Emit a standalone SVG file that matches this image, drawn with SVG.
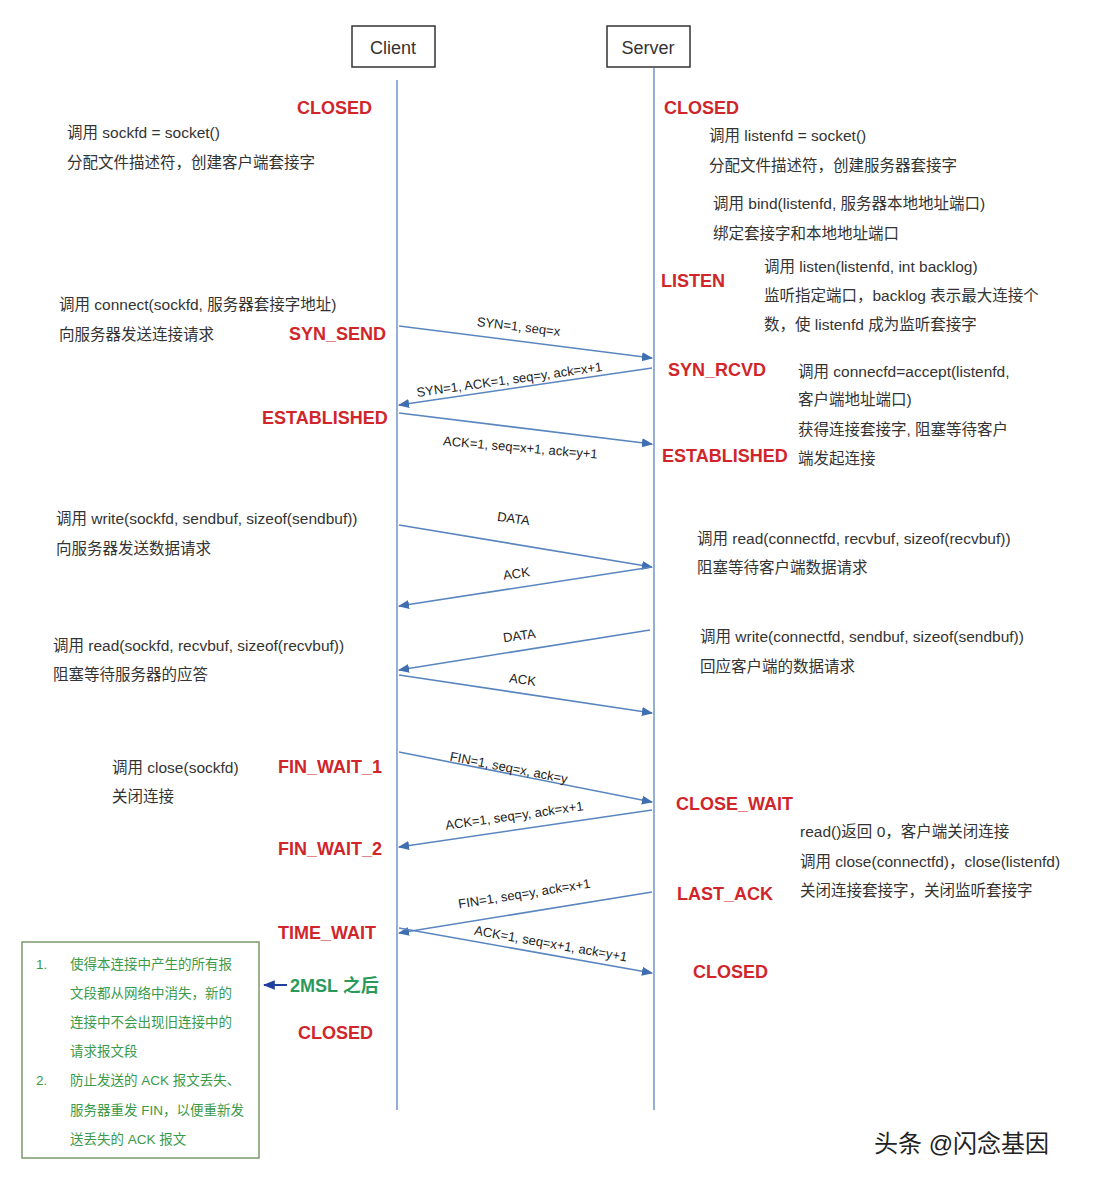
<svg xmlns="http://www.w3.org/2000/svg" width="1100" height="1182" viewBox="0 0 1100 1182">
<defs>
<style>
text{font-family:"Liberation Sans","Noto Sans CJK SC",sans-serif;}
.st{fill:#d0262b;font-size:18px;font-weight:bold;}
.t{fill:#333;font-size:15.5px;}
.m{fill:#222;font-size:13px;}
.g{fill:#3a9a4a;font-size:13.5px;}
.ln{stroke:#7a9ccc;stroke-width:1.6;fill:none;}
.ar{stroke:#5a86c0;stroke-width:1.6;fill:none;marker-end:url(#ah);}
</style>
<marker id="ah" viewBox="0 0 10 10" refX="9" refY="5" markerWidth="7" markerHeight="7" orient="auto"><path d="M0,1 L10,5 L0,9 z" fill="#3f6fb0"/></marker>
<marker id="ahb" viewBox="0 0 10 10" refX="9" refY="5" markerWidth="6" markerHeight="6" orient="auto"><path d="M0,1 L10,5 L0,9 z" fill="#2040a0"/></marker>
</defs>
<rect width="1100" height="1182" fill="#fff"/>
<g id="client"><rect x="352" y="26" width="83" height="41" fill="#fff" stroke="#333" stroke-width="1.5"/><text x="393" y="54" text-anchor="middle" font-size="18" fill="#333">Client</text></g>
<g id="server"><rect x="607" y="26" width="83" height="41" fill="#fff" stroke="#333" stroke-width="1.5"/><text x="648" y="54" text-anchor="middle" font-size="18" fill="#333">Server</text></g>
<g id="connectors">
<line class="ln" x1="397" y1="80" x2="397" y2="1110"/>
<line class="ln" x1="654" y1="68" x2="654" y2="1110"/>
<line class="ar" x1="399" y1="326" x2="652" y2="358"/>
<line class="ar" x1="652" y1="368" x2="399" y2="405"/>
<line class="ar" x1="399" y1="413" x2="652" y2="444"/>
<line class="ar" x1="399" y1="525" x2="652" y2="567"/>
<line class="ar" x1="652" y1="567" x2="399" y2="606"/>
<line class="ar" x1="650" y1="630" x2="399" y2="670"/>
<line class="ar" x1="399" y1="675" x2="652" y2="713"/>
<line class="ar" x1="399" y1="752" x2="652" y2="802"/>
<line class="ar" x1="652" y1="810" x2="399" y2="847"/>
<line class="ar" x1="652" y1="892" x2="399" y2="933"/>
<line class="ar" x1="399" y1="928" x2="652" y2="973"/>
<line x1="287" y1="985" x2="264" y2="985" stroke="#2040a0" stroke-width="2" marker-end="url(#ahb)"/>
</g>
<g id="arrow-labels" class="m">
<text transform="translate(518,331) rotate(7)" text-anchor="middle">SYN=1, seq=x</text>
<text transform="translate(510,384) rotate(-8)" text-anchor="middle">SYN=1, ACK=1, seq=y, ack=x+1</text>
<text transform="translate(520,452) rotate(5)" text-anchor="middle">ACK=1, seq=x+1, ack=y+1</text>
<text transform="translate(513,523) rotate(8)" text-anchor="middle">DATA</text>
<text transform="translate(517,578) rotate(-8)" text-anchor="middle">ACK</text>
<text transform="translate(520,640) rotate(-8)" text-anchor="middle">DATA</text>
<text transform="translate(522,684) rotate(8)" text-anchor="middle">ACK</text>
<text transform="translate(508,772) rotate(11)" text-anchor="middle">FIN=1, seq=x, ack=y</text>
<text transform="translate(515,820) rotate(-8)" text-anchor="middle">ACK=1, seq=y, ack=x+1</text>
<text transform="translate(525,898) rotate(-9)" text-anchor="middle">FIN=1, seq=y, ack=x+1</text>
<text transform="translate(550,948) rotate(10)" text-anchor="middle">ACK=1, seq=x+1, ack=y+1</text>
</g>
<g id="states" class="st">
<text x="297" y="114">CLOSED</text>
<text x="664" y="114">CLOSED</text>
<text x="661" y="287">LISTEN</text>
<text x="289" y="340">SYN_SEND</text>
<text x="668" y="376">SYN_RCVD</text>
<text x="262" y="424">ESTABLISHED</text>
<text x="662" y="462">ESTABLISHED</text>
<text x="278" y="773">FIN_WAIT_1</text>
<text x="676" y="810">CLOSE_WAIT</text>
<text x="278" y="855">FIN_WAIT_2</text>
<text x="677" y="900">LAST_ACK</text>
<text x="278" y="939">TIME_WAIT</text>
<text x="693" y="978">CLOSED</text>
<text x="298" y="1039">CLOSED</text>
</g>
<g id="client-notes" class="t">
<text x="67" y="138">调用 sockfd = socket()</text>
<text x="67" y="168">分配文件描述符，创建客户端套接字</text>
<text x="59" y="310">调用 connect(sockfd, 服务器套接字地址)</text>
<text x="59" y="340">向服务器发送连接请求</text>
<text x="56" y="524">调用 write(sockfd, sendbuf, sizeof(sendbuf))</text>
<text x="56" y="554">向服务器发送数据请求</text>
<text x="53" y="651">调用 read(sockfd, recvbuf, sizeof(recvbuf))</text>
<text x="53" y="680">阻塞等待服务器的应答</text>
<text x="112" y="773">调用 close(sockfd)</text>
<text x="112" y="802">关闭连接</text>
</g>
<g id="server-notes" class="t">
<text x="709" y="141">调用 listenfd = socket()</text>
<text x="709" y="171">分配文件描述符，创建服务器套接字</text>
<text x="713" y="209">调用 bind(listenfd, 服务器本地地址端口)</text>
<text x="713" y="239">绑定套接字和本地地址端口</text>
<text x="764" y="272">调用 listen(listenfd, int backlog)</text>
<text x="764" y="301">监听指定端口，backlog 表示最大连接个</text>
<text x="764" y="330">数，使 listenfd 成为监听套接字</text>
<text x="798" y="377">调用 connecfd=accept(listenfd,</text>
<text x="798" y="405">客户端地址端口)</text>
<text x="798" y="435">获得连接套接字, 阻塞等待客户</text>
<text x="798" y="464">端发起连接</text>
<text x="697" y="544">调用 read(connectfd, recvbuf, sizeof(recvbuf))</text>
<text x="697" y="573">阻塞等待客户端数据请求</text>
<text x="700" y="642">调用 write(connectfd, sendbuf, sizeof(sendbuf))</text>
<text x="700" y="672">回应客户端的数据请求</text>
<text x="800" y="837">read()返回 0，客户端关闭连接</text>
<text x="800" y="867">调用 close(connectfd)，close(listenfd)</text>
<text x="800" y="896">关闭连接套接字，关闭监听套接字</text>
</g>
<g id="note-box">
<rect x="22" y="942" width="237" height="216" fill="#fff" stroke="#7a9a6a" stroke-width="1.5"/>
<text class="g" x="36" y="969" fill="#5a8ab0">1.</text>
<text class="g" x="70" y="969">使得本连接中产生的所有报</text>
<text class="g" x="70" y="998">文段都从网络中消失，新的</text>
<text class="g" x="70" y="1027">连接中不会出现旧连接中的</text>
<text class="g" x="70" y="1056">请求报文段</text>
<text class="g" x="36" y="1085" fill="#5a8ab0">2.</text>
<text class="g" x="70" y="1085">防止发送的 ACK 报文丢失、</text>
<text class="g" x="70" y="1115">服务器重发 FIN，以便重新发</text>
<text class="g" x="70" y="1144">送丢失的 ACK 报文</text>
</g>
<text x="290" y="992" font-size="18" font-weight="bold" fill="#2a9a5a">2MSL 之后</text>
<text x="874" y="1152" font-size="24" fill="#222">头条 @闪念基因</text>
</svg>
